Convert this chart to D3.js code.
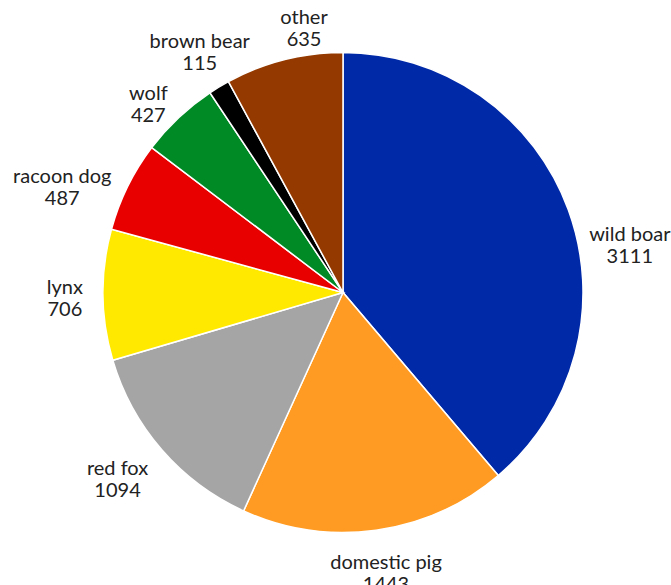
<!DOCTYPE html>
<meta charset="utf-8">
<style>
body { margin: 0; background: #fff; }
.labels text {
  font-family: Lato, "Open Sans", sans-serif;
  font-size: 20px;
  fill: #222;
}
.slices path {
  stroke: #fff;
  stroke-width: 1.5px;
}
</style>
<svg width="671" height="585"></svg>
<script src="https://d3js.org/d3.v7.min.js"></script>
<script>
var species = ["wild boar", "domestic pig", "red fox", "lynx", "racoon dog", "wolf", "brown bear", "other"];
var counts = [3111, 1443, 1094, 706, 487, 427, 115, 635];
var colors = ["#0029a8", "#ff9b22", "#a5a5a5", "#ffe900", "#e80000", "#008a25", "#000000", "#943a00"];

var svg = d3.select("svg"),
    cx = 343,
    cy = 292.5,
    radius = 240,
    gap = 16,
    lineHeight = 22;

var data = species.map(function(s, i) { return {name: s, value: counts[i], color: colors[i]}; });

var pie = d3.pie()
    .sort(null)
    .value(function(d) { return d.value; });

var arc = d3.arc()
    .innerRadius(0)
    .outerRadius(radius);

var arcs = pie(data);

var g = svg.append("g")
    .attr("transform", "translate(" + cx + "," + cy + ")");

g.append("g")
    .attr("class", "slices")
  .selectAll("path")
  .data(arcs)
  .enter().append("path")
    .attr("fill", function(d) { return d.data.color; })
    .attr("d", arc);

// excel "best fit" shifted most labels a bit off the bisector
var nudge = {
  "wild boar": [8, 48],
  "domestic pig": [0, 3],
  "red fox": [-9, 3],
  "lynx": [-4, 2],
  "racoon dog": [-7, 17],
  "wolf": [-6, 14],
  "brown bear": [15, -3],
  "other": [30, 5]
};

var label = g.append("g")
    .attr("class", "labels")
  .selectAll("text")
  .data(arcs)
  .enter().append("text")
    .attr("text-anchor", "middle");

label.append("tspan")
    .attr("x", 0)
    .attr("dy", 0)
    .text(function(d) { return d.data.name; });

label.append("tspan")
    .attr("x", 0)
    .attr("dy", lineHeight)
    .text(function(d) { return d.data.value; });

label.attr("transform", function(d) {
  var a = (d.startAngle + d.endAngle) / 2,
      ux = Math.sin(a),
      uy = -Math.cos(a),
      box = this.getBBox(),
      x = (radius + gap) * ux + box.width / 2 * ux,
      y = (radius + gap) * uy + box.height / 2 * uy,
      n = nudge[d.data.name] || [0, 0];
  // bbox top sits above the first baseline
  return "translate(" + (x + n[0]) + "," + (y + n[1] - box.y - box.height / 2) + ")";
});
</script>
